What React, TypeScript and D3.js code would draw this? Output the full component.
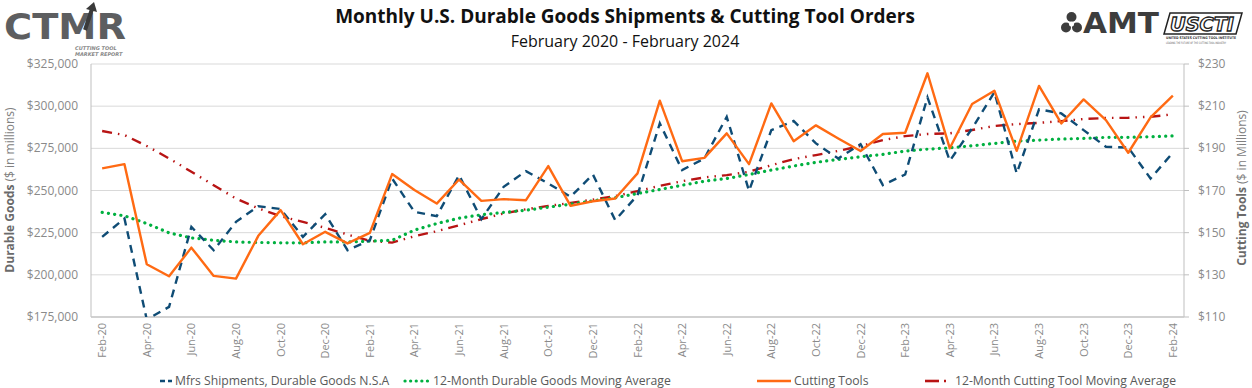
import React from "react";
import * as d3 from "d3";

const months = [
  "Feb-20","Mar-20","Apr-20","May-20","Jun-20","Jul-20","Aug-20","Sep-20","Oct-20","Nov-20","Dec-20","Jan-21",
  "Feb-21","Mar-21","Apr-21","May-21","Jun-21","Jul-21","Aug-21","Sep-21","Oct-21","Nov-21","Dec-21","Jan-22",
  "Feb-22","Mar-22","Apr-22","May-22","Jun-22","Jul-22","Aug-22","Sep-22","Oct-22","Nov-22","Dec-22","Jan-23",
  "Feb-23","Mar-23","Apr-23","May-23","Jun-23","Jul-23","Aug-23","Sep-23","Oct-23","Nov-23","Dec-23","Jan-24","Feb-24",
];

const durableGoods = [
  222500, 233400, 173500, 181000, 228400, 214600, 231400, 240700, 239000, 222500, 236000, 214600,
  220500, 257100, 237300, 234800, 259100, 233000, 252200, 261500, 254200, 246300, 259500, 232400,
  247200, 289800, 262100, 269000, 293700, 249800, 285800, 291200, 277900, 269000, 277500, 253200,
  259500, 305200, 267600, 286800, 308300, 260100, 298100, 295700, 285800, 275900, 275500, 257100, 272400,
];

const durableMA = [
  237000, 235000, 230400, 224900, 221900, 220500, 219500, 219200, 219000, 219000, 219500, 219500,
  220000, 220500, 226500, 230400, 233600, 235600, 237000, 238300, 240100, 241900, 243900, 245700,
  248200, 250600, 253100, 255500, 257100, 259500, 262100, 264500, 266700, 268400, 270000, 271400,
  273400, 274500, 275300, 276500, 277900, 279300, 279900, 280500, 280900, 281500, 281500, 281900, 282400,
];

const cuttingTools = [
  180.5, 182.5, 135.0, 129.3, 142.9, 129.5, 128.2, 148.5, 160.7, 144.5, 150.4, 144.9,
  149.9, 177.8, 170.2, 163.8, 175.2, 165.1, 165.9, 165.4, 181.6, 162.7, 164.9, 166.2,
  178.1, 212.6, 183.9, 185.5, 197.1, 182.5, 211.3, 193.4, 200.9, 194.7, 188.7, 196.8,
  197.4, 225.6, 190.0, 211.0, 217.3, 188.8, 219.6, 201.8, 213.2, 203.4, 187.9, 204.7, 215.0,
];

const cuttingMA = [
  198.2, 196.3, 191.1, 185.2, 178.9, 172.5, 166.2, 161.5, 157.8, 155.1, 152.3, 149.1,
  146.1, 145.3, 148.3, 150.7, 153.5, 156.4, 159.1, 161.1, 162.7, 164.1, 165.7, 167.3,
  169.7, 172.2, 174.4, 176.2, 177.3, 178.9, 182.0, 184.9, 186.8, 188.8, 191.1, 193.9,
  195.8, 196.8, 197.1, 198.7, 200.6, 201.5, 202.1, 202.9, 203.9, 204.4, 204.5, 205.0, 206.1,
];

const leftTicks = [175000, 200000, 225000, 250000, 275000, 300000, 325000];
const rightTicks = [110, 130, 150, 170, 190, 210, 230];

const legendItems = [
  "Mfrs Shipments, Durable Goods N.S.A",
  "12-Month Durable Goods Moving Average",
  "Cutting Tools",
  "12-Month Cutting Tool Moving Average",
];

const W = 1252, H = 388;
const X0 = 91, X1 = 1184, Y0 = 64, Y1 = 317;
const FONT = "'Open Sans', 'Noto Sans', sans-serif";

export default function App() {
  const x = d3.scalePoint<string>().domain(months).range([X0, X1]).padding(0.5);
  const yL = d3.scaleLinear().domain([175000, 325000]).range([Y1, Y0]);
  const yR = d3.scaleLinear().domain([110, 230]).range([Y1, Y0]);

  const lineL = d3.line<number>().x((_, i) => x(months[i])!).y((d) => yL(d));
  const lineR = d3.line<number>().x((_, i) => x(months[i])!).y((d) => yR(d));

  const fmtL = (v: number) => "$" + d3.format(",")(v);
  const fmtR = (v: number) => "$" + v;

  const BLUE = "#0f4c75";
  const GREEN = "#00b040";
  const ORANGE = "#ff6a13";
  const RED = "#b81414";

  const styles = {
    blue: { stroke: BLUE, strokeWidth: 2.4, strokeDasharray: "8 6", fill: "none" },
    green: { stroke: GREEN, strokeWidth: 3.2, strokeDasharray: "0.1 6.2", strokeLinecap: "round" as const, fill: "none" },
    orange: { stroke: ORANGE, strokeWidth: 2.4, fill: "none", strokeLinejoin: "round" as const },
    red: { stroke: RED, strokeWidth: 2.4, strokeDasharray: "10 6 1.5 6 1.5 6", fill: "none" },
  };

  const legendX = [160, 405, 757, 925];
  const legendTextX = [175, 433, 794, 955];
  const legendY = 381;

  return (
    <svg width={W} height={H} style={{ position: "absolute", left: 0, top: 0, background: "#fff" }} fontFamily={FONT}>
      <defs>
        <clipPath id="plot">
          <rect x={X0} y={Y0 - 5} width={X1 - X0} height={Y1 - Y0 + 5} />
        </clipPath>
      </defs>
      <rect x={0} y={0} width={W} height={H} fill="#fff" />

      {/* CTMR logo */}
      <g>
        <text x={4} y={39} fontFamily="'DejaVu Sans', sans-serif" fontWeight="bold" fontSize={35} fill="#5d5e60" textLength={122} lengthAdjust="spacingAndGlyphs">CTMR</text>
        <path d="M85,30 L92,9" stroke="#3a3a3a" strokeWidth={4} fill="none" />
        <path d="M86,9 L94,2 L97,12 Z" fill="#3a3a3a" />
        <text x={75} y={50} fontFamily="'DejaVu Sans', sans-serif" fontStyle="italic" fontWeight="bold" fontSize={5} fill="#888">CUTTING TOOL</text>
        <text x={75} y={56} fontFamily="'DejaVu Sans', sans-serif" fontStyle="italic" fontWeight="bold" fontSize={5} fill="#888">MARKET REPORT</text>
      </g>

      {/* AMT logo */}
      <g fill="#3d3d3d">
        <circle cx={1071.5} cy={17} r={5} />
        <circle cx={1066} cy={27.5} r={5} />
        <circle cx={1077} cy={27.5} r={5} />
        <circle cx={1071.5} cy={24} r={2.5} fill="#fff" />
        <text x={1083} y={33} fontFamily="'DejaVu Sans', sans-serif" fontWeight="bold" fontSize={28} textLength={76} lengthAdjust="spacingAndGlyphs">AMT</text>
      </g>

      {/* USCTI logo */}
      <g>
        <path d="M1170,13 L1242,13 L1236,34 L1164,34 Z" fill="#fff" stroke="#222" strokeWidth={1.5} />
        <text x={1170} y={31} fontFamily="'DejaVu Sans', sans-serif" fontStyle="italic" fontWeight="bold" fontSize={19} fill="#fff" stroke="#222" strokeWidth={1.3} textLength={64} lengthAdjust="spacingAndGlyphs">USCTI</text>
        <text x={1166} y={39} fontFamily="'DejaVu Sans', sans-serif" fontWeight="bold" fontSize={3.6} fill="#333" textLength={70} lengthAdjust="spacingAndGlyphs">UNITED STATES CUTTING TOOL INSTITUTE</text>
        <text x={1166} y={43.5} fontFamily="'DejaVu Sans', sans-serif" fontSize={3} fill="#555" textLength={60} lengthAdjust="spacingAndGlyphs">LEADING THE FUTURE OF THE CUTTING TOOL INDUSTRY</text>
      </g>

      {/* Titles */}
      <text x={625} y={23} textAnchor="middle" fontWeight="bold" fontSize={19} fill="#111">Monthly U.S. Durable Goods Shipments &amp; Cutting Tool Orders</text>
      <text x={625} y={47} textAnchor="middle" fontSize={16} fill="#111">February 2020 - February 2024</text>

      {/* Gridlines */}
      {leftTicks.map((t) => (
        <line key={t} x1={X0} x2={X1} y1={yL(t)} y2={yL(t)} stroke="#d9d9d9" strokeWidth={1} />
      ))}
      <line x1={X0} x2={X0} y1={Y0} y2={Y1} stroke="#bfbfbf" strokeWidth={1} />
      <line x1={X1} x2={X1} y1={Y0} y2={Y1} stroke="#bfbfbf" strokeWidth={1} />
      <line x1={X0} x2={X1} y1={Y1} y2={Y1} stroke="#c8c8c8" strokeWidth={1.5} />
      {rightTicks.map((t) => (
        <line key={"rt" + t} x1={X1} x2={X1 + 5} y1={yR(t)} y2={yR(t)} stroke="#bfbfbf" strokeWidth={1} />
      ))}

      {/* Left tick labels */}
      {leftTicks.map((t) => (
        <text key={"l" + t} x={78} y={yL(t) + 4} textAnchor="end" fontSize={12} fill="#8a8a8a">{fmtL(t)}</text>
      ))}
      {/* Right tick labels */}
      {rightTicks.map((t) => (
        <text key={"r" + t} x={1198} y={yR(t) + 4} textAnchor="start" fontSize={12} fill="#8a8a8a">{fmtR(t)}</text>
      ))}

      {/* X labels */}
      {months.map((m, i) =>
        i % 2 === 0 ? (
          <text key={m} transform={`translate(${x(m)! + 4},323) rotate(-90)`} textAnchor="end" fontSize={11} fill="#8a8a8a">{m}</text>
        ) : null
      )}

      {/* Axis titles */}
      <text transform="translate(14,190) rotate(-90)" textAnchor="middle" fontSize={12} fill="#808080">
        <tspan fontWeight="bold" fill="#6a6a6a">Durable Goods</tspan> ($ in millions)
      </text>
      <text transform="translate(1246,188) rotate(-90)" textAnchor="middle" fontSize={12} fill="#808080">
        <tspan fontWeight="bold" fill="#6a6a6a">Cutting Tools</tspan> ($ in Millions)
      </text>

      {/* Series */}
      <g clipPath="url(#plot)">
        <path d={lineR(cuttingMA)!} {...styles.red} />
        <path d={lineL(durableMA)!} {...styles.green} />
        <path d={lineL(durableGoods)!} {...styles.blue} />
        <path d={lineR(cuttingTools)!} {...styles.orange} />
      </g>

      {/* Legend */}
      <line x1={legendX[0]} x2={legendX[0] + 12} y1={legendY} y2={legendY} stroke={BLUE} strokeWidth={2.4} strokeDasharray="5 3" />
      <line x1={legendX[1]} x2={legendX[1] + 26} y1={legendY} y2={legendY} {...styles.green} strokeDasharray="0.1 5.5" />
      <line x1={legendX[2]} x2={legendX[2] + 34} y1={legendY} y2={legendY} stroke={ORANGE} strokeWidth={2.6} />
      <line x1={legendX[3]} x2={legendX[3] + 14} y1={legendY} y2={legendY} stroke={RED} strokeWidth={2.6} />
      <line x1={legendX[3] + 19} x2={legendX[3] + 21} y1={legendY} y2={legendY} stroke={RED} strokeWidth={2.6} />
      {legendItems.map((t, i) => (
        <text key={t} x={legendTextX[i]} y={legendY + 4} fontSize={12.2} fill="#595959">{t}</text>
      ))}
    </svg>
  );
}
